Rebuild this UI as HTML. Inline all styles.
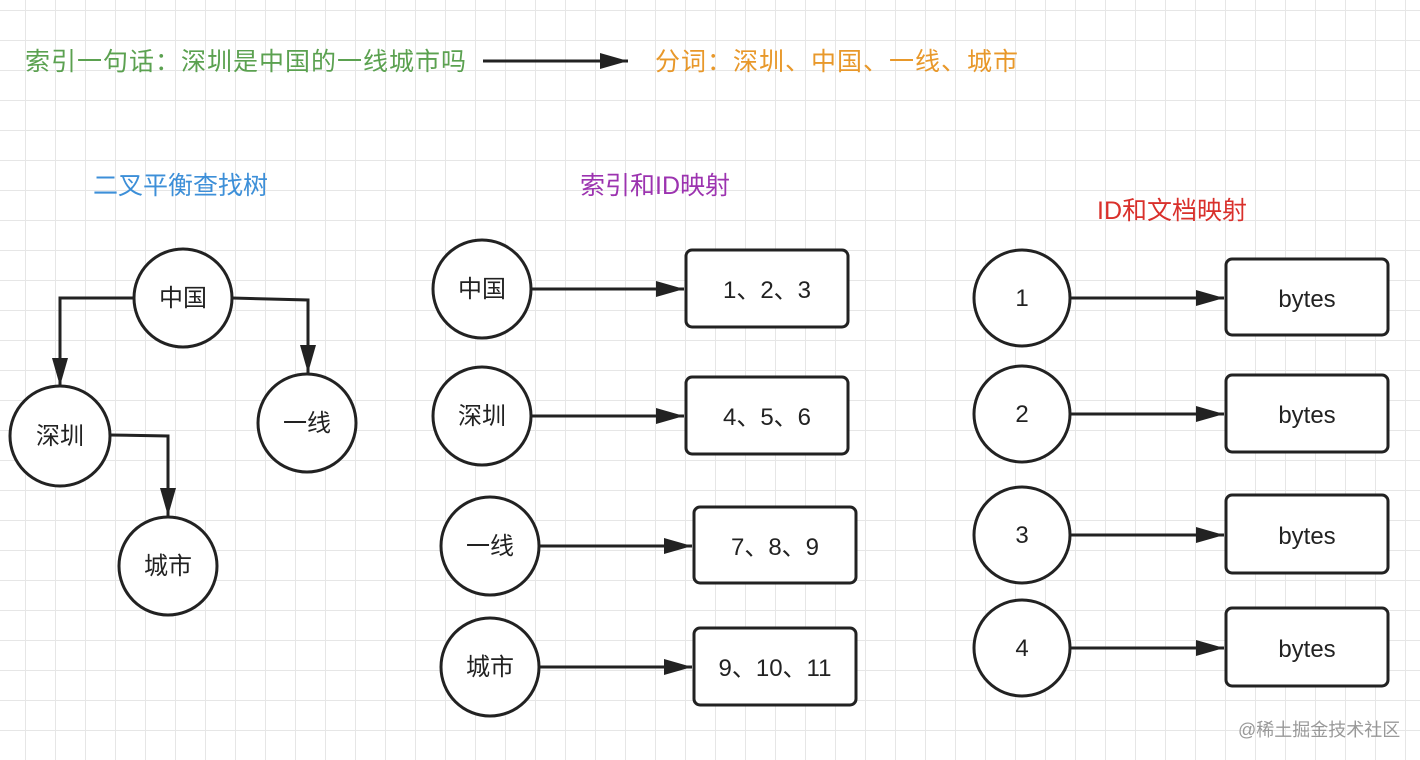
<!DOCTYPE html>
<html><head><meta charset="utf-8"><style>
body{margin:0;width:1420px;height:760px;overflow:hidden;background:#fff;
background-image:linear-gradient(#e6e6e6 1px,transparent 1px),linear-gradient(90deg,#e6e6e6 1px,transparent 1px);
background-size:30px 30px;background-position:25px 10px;font-family:"Liberation Sans","Noto Sans CJK SC",sans-serif;}
svg{position:absolute;left:0;top:0}
</style></head><body>
<svg width="1420" height="760" font-family="Liberation Sans, Noto Sans CJK SC, sans-serif">
<defs>
<marker id="b" markerWidth="28" markerHeight="16" refX="28" refY="8" orient="auto" markerUnits="userSpaceOnUse"><path d="M0,0 L28,8 L0,16z" fill="#222"/></marker></defs>
<g font-size="25">
<text x="25" y="70" fill="#5ba150" letter-spacing="1">索引一句话：深圳是中国的一线城市吗</text>
<text x="655" y="70" fill="#e8982a" letter-spacing="1">分词：深圳、中国、一线、城市</text>
<text x="93" y="194" fill="#3d8fd8">二叉平衡查找树</text>
<text x="580" y="194" fill="#9c33b0">索引和ID映射</text>
<text x="1097" y="219" fill="#d9302b">ID和文档映射</text>
</g>
<line x1="483" y1="61" x2="628" y2="61" stroke="#222" stroke-width="3" marker-end="url(#b)"/>
<g stroke="#222" stroke-width="3" fill="none">
<polyline points="134,298 60,298 60,386" marker-end="url(#b)"/>
<polyline points="232,298 308,300 308,373" marker-end="url(#b)"/>
<polyline points="110,435 168,436 168,516" marker-end="url(#b)"/>
<line x1="531" y1="289" x2="684" y2="289" marker-end="url(#b)"/>
<line x1="531" y1="416" x2="684" y2="416" marker-end="url(#b)"/>
<line x1="539" y1="546" x2="692" y2="546" marker-end="url(#b)"/>
<line x1="539" y1="667" x2="692" y2="667" marker-end="url(#b)"/>
<line x1="1070" y1="298" x2="1224" y2="298" marker-end="url(#b)"/>
<line x1="1070" y1="414" x2="1224" y2="414" marker-end="url(#b)"/>
<line x1="1070" y1="535" x2="1224" y2="535" marker-end="url(#b)"/>
<line x1="1070" y1="648" x2="1224" y2="648" marker-end="url(#b)"/>
</g>
<g stroke="#222" stroke-width="3" fill="#fff">
<circle cx="183" cy="298" r="49"/><circle cx="60" cy="436" r="50"/><circle cx="307" cy="423" r="49"/><circle cx="168" cy="566" r="49"/>
<circle cx="482" cy="289" r="49"/><circle cx="482" cy="416" r="49"/><circle cx="490" cy="546" r="49"/><circle cx="490" cy="667" r="49"/>
<circle cx="1022" cy="298" r="48"/><circle cx="1022" cy="414" r="48"/><circle cx="1022" cy="535" r="48"/><circle cx="1022" cy="648" r="48"/>
<rect x="686" y="250" width="162" height="77" rx="6"/><rect x="686" y="377" width="162" height="77" rx="6"/>
<rect x="694" y="507" width="162" height="76" rx="6"/><rect x="694" y="628" width="162" height="77" rx="6"/>
<rect x="1226" y="259" width="162" height="76" rx="6"/><rect x="1226" y="375" width="162" height="77" rx="6"/>
<rect x="1226" y="495" width="162" height="78" rx="6"/><rect x="1226" y="608" width="162" height="78" rx="6"/>
</g>
<g font-size="24" fill="#222" text-anchor="middle">
<text x="183" y="306">中国</text><text x="60" y="444">深圳</text><text x="307" y="431">一线</text><text x="168" y="574">城市</text>
<text x="482" y="297">中国</text><text x="482" y="424">深圳</text><text x="490" y="554">一线</text><text x="490" y="675">城市</text>
<text x="767" y="298">1、2、3</text><text x="767" y="425">4、5、6</text><text x="775" y="555">7、8、9</text><text x="775" y="676">9、10、11</text>
<text x="1022" y="306">1</text><text x="1022" y="422">2</text><text x="1022" y="543">3</text><text x="1022" y="656">4</text>
<text x="1307" y="307">bytes</text><text x="1307" y="423">bytes</text><text x="1307" y="544">bytes</text><text x="1307" y="657">bytes</text>
</g>
<text x="1238" y="736" font-size="18" fill="#999">@稀土掘金技术社区</text>
</svg>
</body></html>
